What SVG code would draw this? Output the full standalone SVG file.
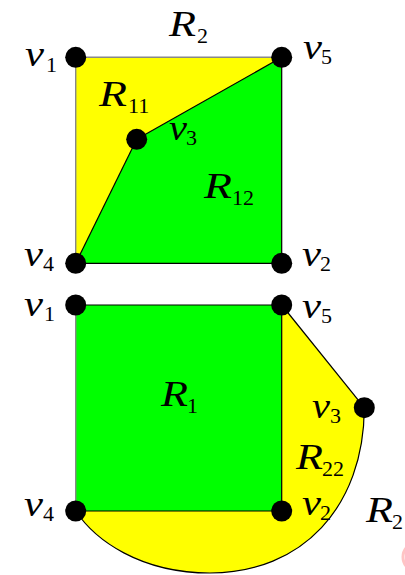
<svg xmlns="http://www.w3.org/2000/svg" width="405" height="575" viewBox="0 0 405 575">
<style>
.yel{fill:#ffff00;stroke:none}
.grn{fill:#00ff00;stroke:none}
.e{stroke:#000;stroke-width:1.2;fill:none}
.g{stroke:#888;stroke-width:1.4;fill:none}
.n{fill:#000}
.m{font-family:"Liberation Serif","Times New Roman",serif;font-style:italic;font-size:36px;fill:#000}
.s{font-family:"Liberation Serif","Times New Roman",serif;font-style:normal;font-size:22px;fill:#000}
</style>
<rect width="405" height="575" fill="#fff"/>
<g id="regions">
  <polygon id="R11" class="yel" points="75.7,57.3 281.7,57.3 281.7,263.3 75.7,263.3"/>
  <polygon id="R12" class="grn" points="75.7,263.3 136.7,139.3 281.7,57.3 281.7,263.3"/>
  <path id="R22" class="yel" d="M281.7,305 L364.3,407.7 C364,507 302,573 210,573 C140,573 95,540 75.7,511 L75.7,305 Z"/>
  <polygon id="R1" class="grn" points="75.7,305 281.7,305 281.7,511 75.7,511"/>
  <ellipse cx="414" cy="557" rx="11" ry="13" fill="none" stroke="#ffc4c4" stroke-width="3"/>
</g>
<g id="connectors">
  <line class="g" x1="75.7" y1="57.3" x2="281.7" y2="57.3"/>
  <line class="g" x1="75.7" y1="57.3" x2="75.7" y2="263.3"/>
  <line class="e" x1="281.7" y1="57.3" x2="281.7" y2="263.3"/>
  <line class="e" x1="75.7" y1="263.3" x2="281.7" y2="263.3"/>
  <line class="e" x1="75.7" y1="263.3" x2="136.7" y2="139.3"/>
  <line class="e" x1="136.7" y1="139.3" x2="281.7" y2="57.3"/>
  <line class="e" x1="75.7" y1="305" x2="281.7" y2="305"/>
  <line class="g" x1="75.7" y1="305" x2="75.7" y2="511"/>
  <line class="e" x1="281.7" y1="305" x2="281.7" y2="511"/>
  <line class="e" x1="75.7" y1="511" x2="281.7" y2="511"/>
  <line class="e" x1="281.7" y1="305" x2="364.3" y2="407.7"/>
  <path class="e" d="M364.3,407.7 C364,507 302,573 210,573 C140,573 95,540 75.7,511"/>
</g>
<g id="top-v1"><circle class="n" cx="75.7" cy="57.3" r="10.5"/><text class="m" x="25" y="66" textLength="19" lengthAdjust="spacingAndGlyphs">v</text><text class="s" x="46" y="72">1</text></g>
<g id="top-v5"><circle class="n" cx="281.7" cy="57.3" r="10.5"/><text class="m" x="303" y="59" textLength="19" lengthAdjust="spacingAndGlyphs">v</text><text class="s" x="321" y="64">5</text></g>
<g id="top-v3"><circle class="n" cx="136.7" cy="139.3" r="10.5"/><text class="m" x="169" y="140" textLength="18" lengthAdjust="spacingAndGlyphs">v</text><text class="s" x="186" y="145">3</text></g>
<g id="top-v4"><circle class="n" cx="75.7" cy="263.3" r="10.5"/><text class="m" x="24" y="266" textLength="19" lengthAdjust="spacingAndGlyphs">v</text><text class="s" x="43" y="271">4</text></g>
<g id="top-v2"><circle class="n" cx="281.7" cy="263.3" r="10.5"/><text class="m" x="302" y="266" textLength="19" lengthAdjust="spacingAndGlyphs">v</text><text class="s" x="320" y="271">2</text></g>
<g id="bot-v1"><circle class="n" cx="75.7" cy="305" r="10.5"/><text class="m" x="24" y="316" textLength="19" lengthAdjust="spacingAndGlyphs">v</text><text class="s" x="44" y="321">1</text></g>
<g id="bot-v5"><circle class="n" cx="281.7" cy="305" r="10.5"/><text class="m" x="302" y="318" textLength="19" lengthAdjust="spacingAndGlyphs">v</text><text class="s" x="321" y="323">5</text></g>
<g id="bot-v3"><circle class="n" cx="364.3" cy="407.7" r="10.5"/><text class="m" x="312" y="418" textLength="18" lengthAdjust="spacingAndGlyphs">v</text><text class="s" x="330" y="423">3</text></g>
<g id="bot-v4"><circle class="n" cx="75.7" cy="511" r="10.5"/><text class="m" x="24" y="516" textLength="19" lengthAdjust="spacingAndGlyphs">v</text><text class="s" x="43" y="521">4</text></g>
<g id="bot-v2"><circle class="n" cx="281.7" cy="511" r="10.5"/><text class="m" x="302" y="515" textLength="19" lengthAdjust="spacingAndGlyphs">v</text><text class="s" x="320" y="520">2</text></g>
<g id="labels">
  <text class="m" x="169" y="36" textLength="27" lengthAdjust="spacingAndGlyphs">R</text><text class="s" x="197" y="43">2</text>
  <text class="m" x="99" y="106" textLength="28" lengthAdjust="spacingAndGlyphs">R</text><text class="s" x="128" y="113">11</text>
  <text class="m" x="204" y="198" textLength="28" lengthAdjust="spacingAndGlyphs">R</text><text class="s" x="232" y="205">12</text>
  <text class="m" x="161" y="406" textLength="27" lengthAdjust="spacingAndGlyphs">R</text><text class="s" x="187" y="413">1</text>
  <text class="m" x="296" y="469" textLength="27" lengthAdjust="spacingAndGlyphs">R</text><text class="s" x="322" y="476">22</text>
  <text class="m" x="366" y="522" textLength="27" lengthAdjust="spacingAndGlyphs">R</text><text class="s" x="392" y="529">2</text>
</g>
</svg>
